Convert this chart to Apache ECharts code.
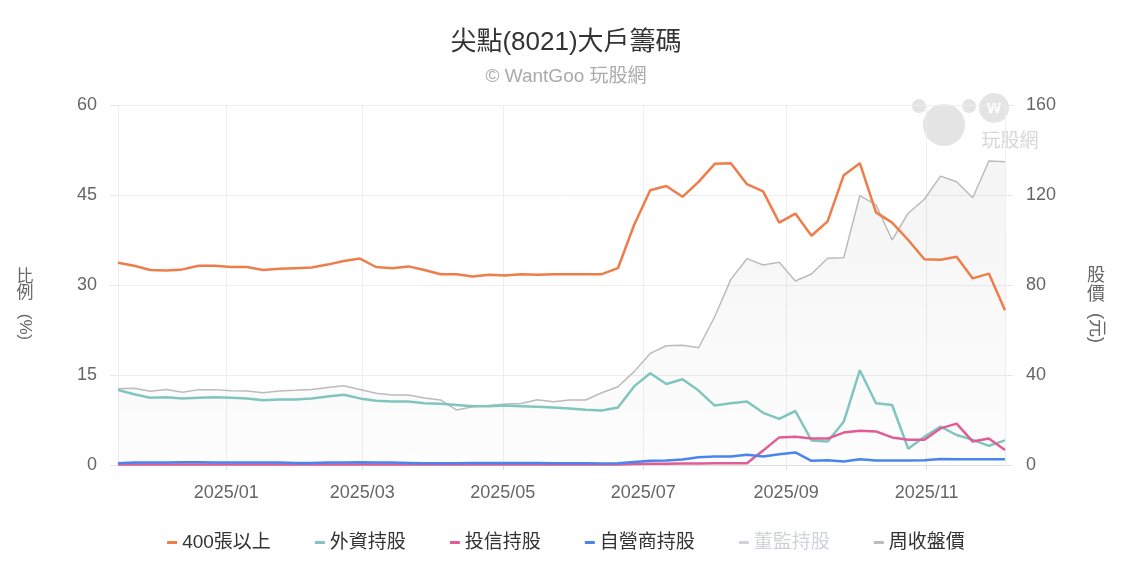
<!DOCTYPE html>
<html>

<head>
    <meta charset="utf-8" />
    <script type="text/javascript" src="https://cdn.jsdelivr.net/npm/echarts@6.0.0/dist/echarts.min.js"></script>
    <title>尖點(8021)大戶籌碼</title>
    <style>
        html, body { margin: 0; padding: 0; background: #fff; }
        #main { width: 1132px; height: 564px; }
    </style>
</head>

<body>
    <div id="main"></div>
    <script type="text/javascript">
    // 週資料日期 (每週五)
    var dates = [
        '2024-11-15', '2024-11-22', '2024-11-29', '2024-12-06', '2024-12-13', '2024-12-20', '2024-12-27',
        '2025-01-03', '2025-01-10', '2025-01-17', '2025-01-24', '2025-01-31',
        '2025-02-07', '2025-02-14', '2025-02-21', '2025-02-28',
        '2025-03-07', '2025-03-14', '2025-03-21', '2025-03-28',
        '2025-04-04', '2025-04-11', '2025-04-18', '2025-04-25',
        '2025-05-02', '2025-05-09', '2025-05-16', '2025-05-23', '2025-05-30',
        '2025-06-06', '2025-06-13', '2025-06-20', '2025-06-27',
        '2025-07-04', '2025-07-11', '2025-07-18', '2025-07-25',
        '2025-08-01', '2025-08-08', '2025-08-15', '2025-08-22', '2025-08-29',
        '2025-09-05', '2025-09-12', '2025-09-19', '2025-09-26',
        '2025-10-03', '2025-10-10', '2025-10-17', '2025-10-24', '2025-10-31',
        '2025-11-07', '2025-11-14', '2025-11-21', '2025-11-28', '2025-12-05'
    ];

    var bigHolders = [ // 400張以上 (%)
        33.7, 33.2, 32.5, 32.4, 32.6, 33.2, 33.2, 33.0, 33.0, 32.5,
        32.7, 32.8, 32.9, 33.4, 34.0, 34.4, 33.0, 32.8, 33.1, 32.5,
        31.8, 31.8, 31.4, 31.7, 31.6, 31.8, 31.7, 31.8, 31.8, 31.8,
        31.8, 32.8, 40.0, 45.8, 46.5, 44.7, 47.2, 50.2, 50.3, 46.8,
        45.6, 40.4, 41.9, 38.2, 40.6, 48.3, 50.3, 42.1, 40.4, 37.5,
        34.3, 34.2, 34.7, 31.1, 31.9, 25.8
    ];
    var foreign = [ // 外資持股 (%)
        12.5, 11.8, 11.2, 11.3, 11.1, 11.2, 11.3, 11.2, 11.1, 10.8,
        10.9, 10.9, 11.1, 11.4, 11.7, 11.1, 10.7, 10.6, 10.6, 10.3,
        10.2, 10.0, 9.8, 9.8, 9.9, 9.8, 9.7, 9.6, 9.4, 9.2,
        9.1, 9.6, 13.1, 15.3, 13.5, 14.3, 12.4, 9.9, 10.3, 10.6,
        8.7, 7.7, 9.0, 4.1, 3.9, 7.2, 15.8, 10.3, 10.0, 2.7,
        4.7, 6.4, 5.0, 4.2, 3.2, 4.1
    ];
    var trust = [ // 投信持股 (%)
        0.1, 0.1, 0.1, 0.1, 0.1, 0.1, 0.1, 0.1, 0.1, 0.1,
        0.1, 0.1, 0.1, 0.1, 0.1, 0.1, 0.1, 0.1, 0.1, 0.1,
        0.1, 0.1, 0.1, 0.1, 0.1, 0.1, 0.1, 0.1, 0.1, 0.1,
        0.1, 0.1, 0.15, 0.2, 0.2, 0.25, 0.25, 0.3, 0.3, 0.3,
        2.4, 4.6, 4.7, 4.4, 4.4, 5.4, 5.7, 5.6, 4.6, 4.2,
        4.2, 6.1, 6.9, 3.9, 4.4, 2.5
    ];
    var dealer = [ // 自營商持股 (%)
        0.3, 0.4, 0.4, 0.4, 0.45, 0.45, 0.4, 0.4, 0.4, 0.4,
        0.4, 0.35, 0.35, 0.4, 0.4, 0.45, 0.4, 0.4, 0.35, 0.3,
        0.3, 0.3, 0.35, 0.35, 0.35, 0.35, 0.35, 0.3, 0.3, 0.3,
        0.25, 0.3, 0.5, 0.7, 0.75, 0.9, 1.3, 1.4, 1.4, 1.7,
        1.4, 1.8, 2.1, 0.7, 0.8, 0.6, 0.95, 0.75, 0.75, 0.75,
        0.8, 1.0, 0.95, 0.95, 0.95, 0.95
    ];
    var directors = []; // 董監持股 (圖上未顯示)
    var price = [ // 周收盤價 (元)
        33.9, 34.1, 32.8, 33.6, 32.3, 33.5, 33.5, 33.0, 32.9, 32.1,
        32.9, 33.2, 33.6, 34.4, 35.2, 33.6, 31.9, 31.1, 31.1, 29.8,
        28.9, 24.4, 25.9, 26.5, 27.1, 27.3, 29.0, 28.1, 28.9, 28.9,
        32.1, 34.8, 41.5, 49.6, 53.0, 53.2, 52.1, 65.9, 82.5, 91.7,
        88.9, 90.1, 81.8, 84.9, 91.9, 92.1, 119.7, 115.6, 100, 111.9,
        118.1, 128.4, 125.9, 118.8, 135.1, 134.8
    ];

    var seriesNames = ['400張以上', '外資持股', '投信持股', '自營商持股', '董監持股', '周收盤價'];
    var seriesColors = ['#ef7d4a', '#80c6bf', '#df5c96', '#4a84ef', '#f5bf35', '#bbbbbb'];

    var fontFam = "'Liberation Sans', 'Noto Sans CJK TC', sans-serif";
    var myChart = echarts.init(document.getElementById('main'));

    function pairs(arr) { // 日期 + 數值
        var out = [];
        for (var i = 0; i < arr.length; i++) {
            out.push([dates[i], arr[i]]);
        }
        return out;
    }

    function lineSeries(idx, arr, axis, width) {
        return {
            name: seriesNames[idx],
            type: 'line',
            yAxisIndex: axis,
            data: pairs(arr),
            symbol: 'none',
            showSymbol: false,
            lineStyle: { width: width, color: seriesColors[idx] },
            itemStyle: { color: seriesColors[idx] },
            z: 3
        };
    }

    var priceSeries = lineSeries(5, price, 1, 1.5);
    priceSeries.z = 1;
    priceSeries.areaStyle = {
        color: new echarts.graphic.LinearGradient(0, 0, 0, 1, [
            { offset: 0, color: 'rgba(0,0,0,0.06)' },
            { offset: 1, color: 'rgba(0,0,0,0.01)' }
        ])
    };

    var option = {
        animation: false,
        textStyle: { fontFamily: fontFam },
        title: {
            text: '尖點(8021)大戶籌碼',
            subtext: '© WantGoo 玩股網',
            left: 'center',
            top: 25,
            itemGap: 11,
            textStyle: { fontSize: 26, color: '#333', fontWeight: 'normal', fontFamily: fontFam },
            subtextStyle: { fontSize: 19, color: '#aaa', fontFamily: fontFam }
        },
        legend: {
            data: seriesNames,
            bottom: 7,
            left: 'center',
            icon: 'rect',
            itemWidth: 10,
            itemHeight: 3,
            itemGap: 44,
            textStyle: { fontSize: 19, color: '#333', fontFamily: fontFam },
            selected: { '董監持股': false }
        },
        color: seriesColors,
        grid: { left: 118, right: 127, top: 105, bottom: 99 },
        xAxis: {
            type: 'time',
            min: 'dataMin',
            max: 'dataMax',
            boundaryGap: false,
            axisLine: { lineStyle: { color: '#ddd' } },
            axisTick: { show: true, length: 5, lineStyle: { color: '#ddd' } },
            splitLine: { show: true, lineStyle: { color: '#eee' } },
            axisLabel: { formatter: '{yyyy}/{MM}', fontSize: 18, color: '#666', margin: 19, fontWeight: 'normal' }
        },
        yAxis: [{
            type: 'value',
            min: 0,
            max: 60,
            interval: 15,
            axisLine: { show: false },
            axisTick: { show: true, length: 8, lineStyle: { color: '#e6e6e6' } },
            splitLine: { lineStyle: { color: '#eee' } },
            axisLabel: { fontSize: 18, color: '#666', margin: 21 }
        }, {
            type: 'value',
            min: 0,
            max: 160,
            interval: 40,
            axisLine: { show: false },
            axisTick: { show: true, length: 8, lineStyle: { color: '#e6e6e6' } },
            splitLine: { show: false },
            axisLabel: { fontSize: 18, color: '#666', margin: 21 }
        }],
        graphic: [
            // 左軸名稱
            { type: 'text', x: 25, y: 269, style: { text: '比\n例', font: '17px ' + fontFam, fill: '#666', textAlign: 'center', lineHeight: 16 } },
            { type: 'text', x: 25, y: 327, rotation: -Math.PI / 2, style: { text: '(%)', font: '17px ' + fontFam, fill: '#666', textAlign: 'center', textVerticalAlign: 'middle' } },
            // 右軸名稱
            { type: 'text', x: 1096, y: 267, style: { text: '股\n價', font: '18px ' + fontFam, fill: '#666', textAlign: 'center', lineHeight: 19 } },
            { type: 'text', x: 1096, y: 328, rotation: -Math.PI / 2, style: { text: '(元)', font: '18px ' + fontFam, fill: '#666', textAlign: 'center', textVerticalAlign: 'middle' } },
            // 浮水印
            { type: 'circle', shape: { cx: 919, cy: 106, r: 7 }, style: { fill: '#e4e4e4' }, z: 0 },
            { type: 'circle', shape: { cx: 969, cy: 106, r: 7 }, style: { fill: '#e4e4e4' }, z: 0 },
            { type: 'circle', shape: { cx: 944, cy: 125, r: 21 }, style: { fill: '#e4e4e4' }, z: 0 },
            { type: 'circle', shape: { cx: 994, cy: 108, r: 15 }, style: { fill: '#e4e4e4' }, z: 0 },
            { type: 'text', x: 994, y: 108, style: { text: 'w', font: 'bold 18px ' + fontFam, fill: '#fff', textAlign: 'center', textVerticalAlign: 'middle' }, z: 0 },
            { type: 'text', x: 1010, y: 142, style: { text: '玩股網', font: '19px ' + fontFam, fill: '#d6d6d6', textAlign: 'center', textVerticalAlign: 'middle' }, z: 0 }
        ],
        series: [
            lineSeries(0, bigHolders, 0, 2.5),
            lineSeries(1, foreign, 0, 2.5),
            lineSeries(2, trust, 0, 2.5),
            lineSeries(3, dealer, 0, 2.5),
            lineSeries(4, directors, 0, 2.5),
            priceSeries
        ]
    };
    myChart.setOption(option);
    </script>
</body>

</html>
